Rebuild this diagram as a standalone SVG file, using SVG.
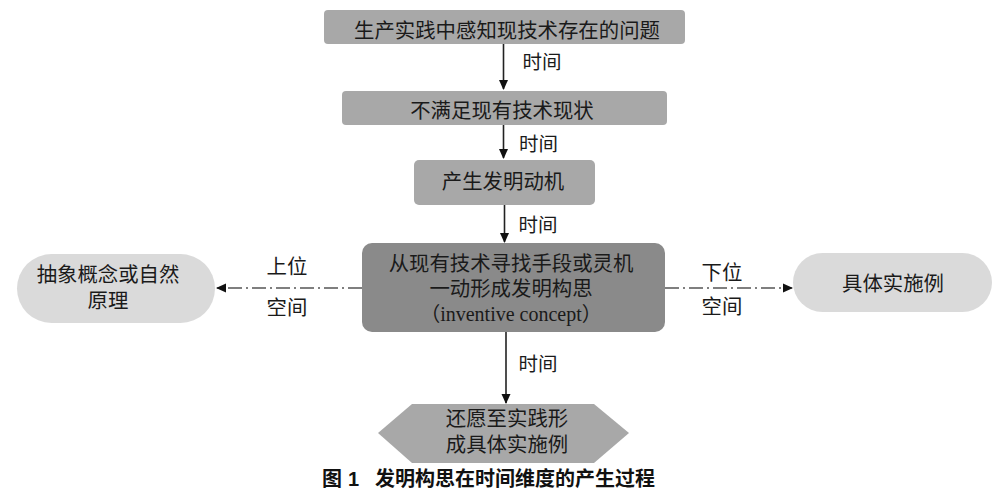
<svg xmlns="http://www.w3.org/2000/svg" width="1000" height="498" viewBox="0 0 1000 498">
<defs>
<style>
.t{font-family:"Liberation Sans","Noto Sans CJK SC",sans-serif;font-size:20.4px;fill:#1a1a1a;text-anchor:middle;dominant-baseline:central}
.s{font-family:"Liberation Sans","Noto Sans CJK SC",sans-serif;font-size:19.5px;fill:#1a1a1a;text-anchor:middle;dominant-baseline:central}
.e{font-family:"Liberation Serif","Noto Sans CJK SC",serif;font-size:20px;fill:#1a1a1a;text-anchor:middle;dominant-baseline:central}
.box{fill:#a8a8a8}
.main{fill:#8a8a8a}
.pill{fill:#dadada}
.ln{stroke:#222;stroke-width:1.6;fill:none}
.dd{stroke:#555;stroke-width:1.3;fill:none;stroke-dasharray:14 4 2 4}
.cap{font-family:"Liberation Sans","Noto Sans CJK SC",sans-serif;font-size:20px;font-weight:bold;fill:#111;dominant-baseline:central}
</style>
<marker id="ah" markerWidth="10" markerHeight="10" refX="9" refY="5" orient="auto" markerUnits="userSpaceOnUse">
<path d="M0,0.5 L10,5 L0,9.5 Z" fill="#111"/>
</marker>
</defs>
<rect width="1000" height="498" fill="#ffffff"/>

<g id="connectors">
<line class="ln" x1="503.5" y1="44" x2="503.5" y2="89" marker-end="url(#ah)"/>
<line class="ln" x1="503.5" y1="125" x2="503.5" y2="158" marker-end="url(#ah)"/>
<line class="ln" x1="504.5" y1="205" x2="504.5" y2="242" marker-end="url(#ah)"/>
<line class="ln" x1="506" y1="332" x2="506" y2="403" marker-end="url(#ah)"/>
<line class="dd" x1="362" y1="288" x2="217" y2="288" marker-end="url(#ah)"/>
<line class="dd" x1="665" y1="288" x2="792" y2="288" marker-end="url(#ah)"/>
<text class="s" x="542" y="62">时间</text>
<text class="s" x="538.5" y="144">时间</text>
<text class="s" x="538" y="225">时间</text>
<text class="s" x="538" y="364">时间</text>
<text class="t" x="287" y="267">上位</text>
<text class="t" x="287" y="308">空间</text>
<text class="t" x="722" y="273">下位</text>
<text class="t" x="722" y="307">空间</text>
</g>

<g id="n1">
<rect class="box" x="324" y="10" width="361" height="34" rx="4"/>
<text class="t" x="507" y="30.5">生产实践中感知现技术存在的问题</text>
</g>
<g id="n2">
<rect class="box" x="342" y="91" width="325" height="34" rx="4"/>
<text class="t" x="502" y="110.5">不满足现有技术现状</text>
</g>
<g id="n3">
<rect class="box" x="414" y="160" width="181" height="45" rx="5"/>
<text class="t" x="503" y="182">产生发明动机</text>
</g>
<g id="n4">
<rect class="main" x="362" y="243" width="303" height="89" rx="10"/>
<text class="t" x="511" y="264">从现有技术寻找手段或灵机</text>
<text class="t" x="511" y="289">一动形成发明构思</text>
<text class="e" x="511" y="314">（inventive concept）</text>
</g>
<g id="n5">
<rect class="pill" x="17" y="254" width="198" height="69" rx="34.5"/>
<text class="t" x="108" y="275">抽象概念或自然</text>
<text class="t" x="108" y="300.5">原理</text>
</g>
<g id="n6">
<rect class="pill" x="793" y="253" width="199" height="59" rx="29.5"/>
<text class="t" x="893" y="284">具体实施例</text>
</g>
<g id="n7">
<polygon class="box" points="412,404 594,404 629,433 594,463 412,463 378,433"/>
<text class="t" x="507" y="419">还愿至实践形</text>
<text class="t" x="507" y="444.5">成具体实施例</text>
</g>
<g id="caption">
<text class="cap" x="322" y="479">图</text>
<text class="cap" x="348" y="479" font-family="Liberation Serif" font-weight="normal">1</text>
<text class="cap" x="375" y="479">发明构思在时间维度的产生过程</text>
</g>
</svg>
